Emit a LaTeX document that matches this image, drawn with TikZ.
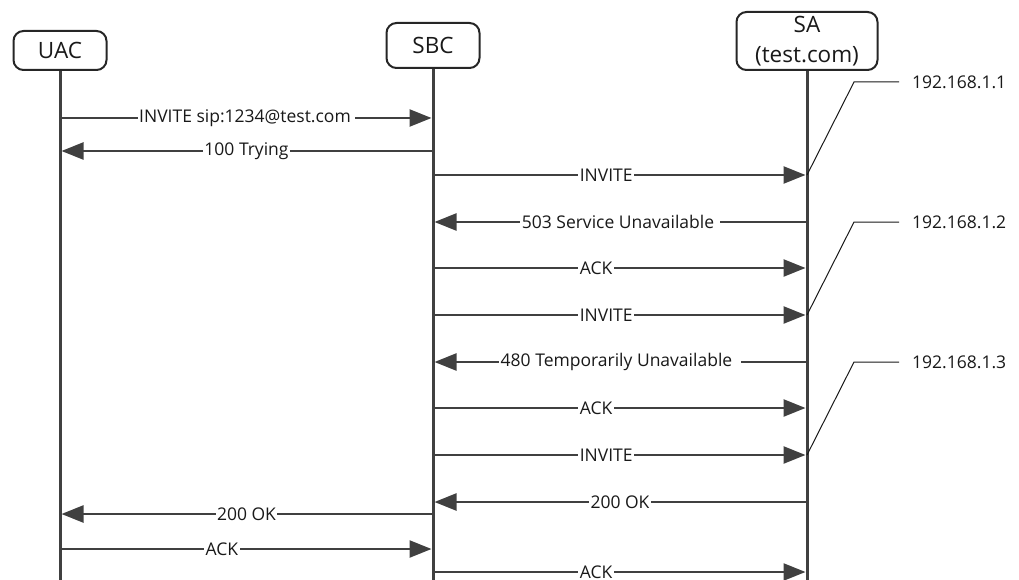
\documentclass[tikz,border=0pt]{standalone}
\usepackage{fontspec}
\setmainfont{Open Sans}
\usetikzlibrary{arrows.meta, positioning}

\begin{document}
\begin{tikzpicture}[x=1pt, y=-1pt]
  \useasboundingbox (0,0) rectangle (1019,580);
  \tikzstyle{Entity} = [draw=black!85, line width=2pt, rounded corners=10pt, align=center,
    inner sep=0pt, text=black!90, font=\fontsize{22.5}{30}\selectfont]
  \tikzstyle{Life} = [draw=black!75, line width=3pt]
  \tikzstyle{Msg} = [draw=black!75, line width=2.5pt, shorten >=1.5pt,
    -{Triangle[length=22pt, width=17pt]}]
  \tikzstyle{Lbl} = [fill=white, inner sep=1.5pt, text=black!90, font=\fontsize{17.5}{20}\selectfont]
  \tikzstyle{Callout} = [draw=black!90, line width=1pt]
  \tikzstyle{IP} = [inner sep=0pt, text=black!90, font=\fontsize{17.5}{20}\selectfont]

  % entities and lifelines
  \node[Entity, minimum width=93pt, minimum height=39pt] (UAC) at (60,50.5) {UAC};
  \node[Entity, minimum width=93pt, minimum height=45pt] (SBC) at (433,45.5) {SBC};
  \node[Entity, minimum width=141pt, minimum height=58pt] (SA) at (807,41) {SA\\(test.com)};
  \coordinate (UACe) at (60,580);
  \coordinate (SBCe) at (433,580);
  \coordinate (SAe) at (807,580);
  \draw[Life] (UAC.south) -- (UACe);
  \draw[Life] (SBC.south) -- (SBCe);
  \draw[Life] (SA.south) -- (SAe);

  % message ends
  \coordinate (U1) at (60,118);  \coordinate (B1) at (433,118);
  \coordinate (U2) at (60,151);  \coordinate (B2) at (433,151);
  \coordinate (B3) at (433,175); \coordinate (S3) at (807,175);
  \coordinate (B4) at (433,222); \coordinate (S4) at (807,222);
  \coordinate (B5) at (433,268); \coordinate (S5) at (807,268);
  \coordinate (B6) at (433,315); \coordinate (S6) at (807,315);
  \coordinate (B7) at (433,362); \coordinate (S7) at (807,362);
  \coordinate (B8) at (433,408); \coordinate (S8) at (807,408);
  \coordinate (B9) at (433,455); \coordinate (S9) at (807,455);
  \coordinate (B10) at (433,502); \coordinate (S10) at (807,502);
  \coordinate (U11) at (60,514); \coordinate (B11) at (433,514);
  \coordinate (U12) at (60,549); \coordinate (B12) at (433,549);
  \coordinate (B13) at (433,572); \coordinate (S13) at (807,572);

  \draw[Msg] (U1) -- node[Lbl, pos=0.5] {INVITE sip:1234@test.com\kern3pt} (B1);
  \draw[Msg] (B2) -- node[Lbl] {100 Trying} (U2);
  \draw[Msg] (B3) -- node[Lbl, pos=0.463] {INVITE} (S3);
  \draw[Msg] (S4) -- node[Lbl, pos=0.5] {503 Service Unavailable\kern4pt} (B4);
  \draw[Msg] (B5) -- node[Lbl, pos=0.436] {ACK} (S5);
  \draw[Msg] (B6) -- node[Lbl, pos=0.463] {INVITE} (S6);
  \draw[Msg] (S7) -- node[Lbl, pos=0.5] {480 Temporarily Unavailable\kern7pt} (B7);
  \draw[Msg] (B8) -- node[Lbl, pos=0.436] {ACK} (S8);
  \draw[Msg] (B9) -- node[Lbl, pos=0.463] {INVITE} (S9);
  \draw[Msg] (S10) -- node[Lbl, pos=0.5] {200 OK} (B10);
  \draw[Msg] (B11) -- node[Lbl] {200 OK} (U11);
  \draw[Msg] (U12) -- node[Lbl, pos=0.434] {ACK} (B12);
  \draw[Msg] (B13) -- node[Lbl, pos=0.436, inner ysep=0.5pt] {ACK} (S13);

  % address callouts
  \coordinate (K1) at (854,82);  \coordinate (E1) at (899,82);
  \coordinate (K2) at (854,222); \coordinate (E2) at (899,222);
  \coordinate (K3) at (854,362); \coordinate (E3) at (899,362);
  \node[IP, right=13pt of E1] (IP1) {192.168.1.1};
  \node[IP, right=13pt of E2] (IP2) {192.168.1.2};
  \node[IP, right=13pt of E3] (IP3) {192.168.1.3};
  \draw[Callout] (S3) -- (K1) -- (E1);
  \draw[Callout] (S6) -- (K2) -- (E2);
  \draw[Callout] (S9) -- (K3) -- (E3);
\end{tikzpicture}
\end{document}
